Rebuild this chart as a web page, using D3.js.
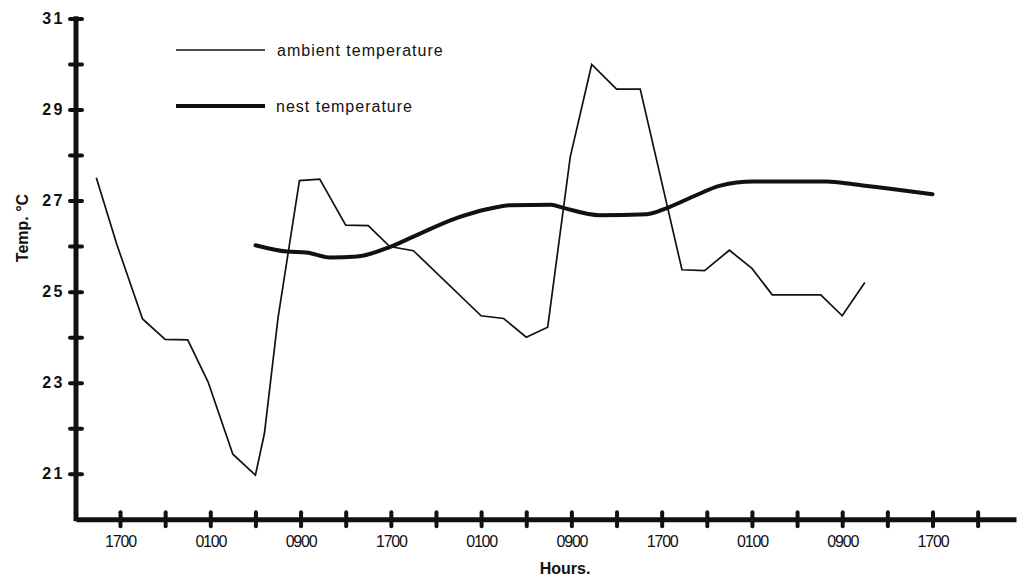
<!DOCTYPE html>
<html>
<head>
<meta charset="utf-8">
<script src="https://cdn.jsdelivr.net/npm/d3@7"></script>
<style>
  body { margin: 0; background: #fff; }
  text { font-family: "Liberation Sans", "DejaVu Sans", sans-serif; fill: #111; }
</style>
</head>
<body>
<script>
// hours counted from the first 1700 on the time axis
var ambientHours = [-2.1, -0.3, 2, 4, 6, 7.8, 10, 12, 12.8, 14, 15.9, 17.7, 20, 22, 23.9, 26, 32, 34, 36, 37.9, 39.9, 41.8, 44, 46.1, 49.8, 51.8, 54, 56, 57.8, 62.1, 64, 66];
var ambientTemp = [27.5, 26.05, 24.4, 23.95, 23.94, 23.02, 21.43, 20.97, 21.89, 24.42, 27.44, 27.47, 26.46, 26.45, 25.99, 25.9, 24.47, 24.41, 24.0, 24.22, 27.96, 29.99, 29.45, 29.45, 25.48, 25.46, 25.91, 25.51, 24.93, 24.93, 24.47, 25.2];

var nestHours = [12, 14.8, 16.5, 18.6, 21, 24, 26, 30, 32.5, 34.6, 38.2, 39.3, 42.5, 46.7, 48.4, 50.8, 53.2, 56.1, 62.6, 65, 67.9, 72];
var nestTemp = [26.02, 25.88, 25.86, 25.75, 25.77, 25.99, 26.21, 26.63, 26.81, 26.9, 26.91, 26.84, 26.68, 26.7, 26.83, 27.09, 27.33, 27.42, 27.42, 27.36, 27.27, 27.14];

var xTickHours = d3.range(0, 77, 4);
var xLabels = ["1700", "0100", "0900", "1700", "0100", "0900", "1700", "0100", "0900", "1700"];
var yTicks = [21, 22, 23, 24, 25, 26, 27, 28, 29, 30, 31];
var yLabelTicks = [21, 23, 25, 27, 29, 31];

var svgWidth = 1019, svgHeight = 580;

var svg = d3.select("body").append("svg")
  .attr("width", svgWidth)
  .attr("height", svgHeight);

var x = d3.scaleLinear().domain([-3.9, 79.4]).range([76, 1016]);
var y = d3.scaleLinear().domain([20, 31.05]).range([519.3, 16.2]);

// x axis
var xAxis = svg.append("g")
  .attr("transform", "translate(0," + y(20) + ")")
  .call(d3.axisBottom(x).tickValues(xTickHours).tickSizeOuter(0).tickSize(0)
    .tickFormat(function(d) { return d % 8 === 0 ? xLabels[d / 8] : ""; }));
xAxis.select(".domain").attr("stroke", "#111").attr("stroke-width", 5);
xAxis.selectAll(".tick line")
  .attr("y1", -7).attr("y2", 7)
  .attr("stroke", "#111").attr("stroke-width", 4).attr("stroke-linecap", "round");
xAxis.selectAll(".tick text")
  .attr("y", 28).attr("dy", "0")
  .style("font-size", "16px").style("letter-spacing", "-1.2px")
  .attr("font-family", null);

// y axis
var yAxis = svg.append("g")
  .attr("transform", "translate(" + x(-3.9) + ",0)")
  .call(d3.axisLeft(y).tickValues(yTicks).tickSizeOuter(0).tickSize(0)
    .tickFormat(function(d) { return yLabelTicks.indexOf(d) >= 0 ? d : ""; }));
yAxis.select(".domain").attr("stroke", "#111").attr("stroke-width", 5)
  .attr("d", "M0," + (y(31.05)) + "V" + (y(20) + 2));
yAxis.selectAll(".tick line")
  .attr("x1", -6).attr("x2", 6)
  .attr("stroke", "#111").attr("stroke-width", 4).attr("stroke-linecap", "round");
yAxis.selectAll(".tick text")
  .attr("x", -11)
  .style("font-size", "16px").style("font-weight", "bold").style("letter-spacing", "2.5px")
  .attr("font-family", null);

// axis titles
svg.append("text")
  .attr("x", 565).attr("y", 574)
  .attr("text-anchor", "middle")
  .style("font-size", "16px").style("font-weight", "bold")
  .text("Hours.");

svg.append("text")
  .attr("transform", "translate(28,228) rotate(-90)")
  .attr("text-anchor", "middle")
  .style("font-size", "16px").style("font-weight", "bold")
  .text("Temp. °C");

// lines
var ambient = ambientHours.map(function(h, i) { return [h, ambientTemp[i]]; });
var nest = nestHours.map(function(h, i) { return [h, nestTemp[i]]; });

var straight = d3.line()
  .x(function(d) { return x(d[0]); })
  .y(function(d) { return y(d[1]); });

var smooth = d3.line()
  .x(function(d) { return x(d[0]); })
  .y(function(d) { return y(d[1]); })
  .curve(d3.curveMonotoneX);

svg.append("path")
  .datum(ambient)
  .attr("fill", "none")
  .attr("stroke", "#111")
  .attr("stroke-width", 1.7)
  .attr("d", straight);

svg.append("path")
  .datum(nest)
  .attr("fill", "none")
  .attr("stroke", "#111")
  .attr("stroke-width", 4)
  .attr("stroke-linecap", "round")
  .attr("d", smooth);

// legend
var legend = svg.append("g");
legend.append("line")
  .attr("x1", 176).attr("x2", 265).attr("y1", 50).attr("y2", 50)
  .attr("stroke", "#111").attr("stroke-width", 1.3);
legend.append("text")
  .attr("x", 277).attr("y", 56)
  .style("font-size", "16px").style("letter-spacing", "1px")
  .text("ambient temperature");
legend.append("line")
  .attr("x1", 176).attr("x2", 265).attr("y1", 106).attr("y2", 106)
  .attr("stroke", "#111").attr("stroke-width", 4);
legend.append("text")
  .attr("x", 276).attr("y", 112)
  .style("font-size", "16px").style("letter-spacing", "1px")
  .text("nest temperature");
</script>
</body>
</html>
